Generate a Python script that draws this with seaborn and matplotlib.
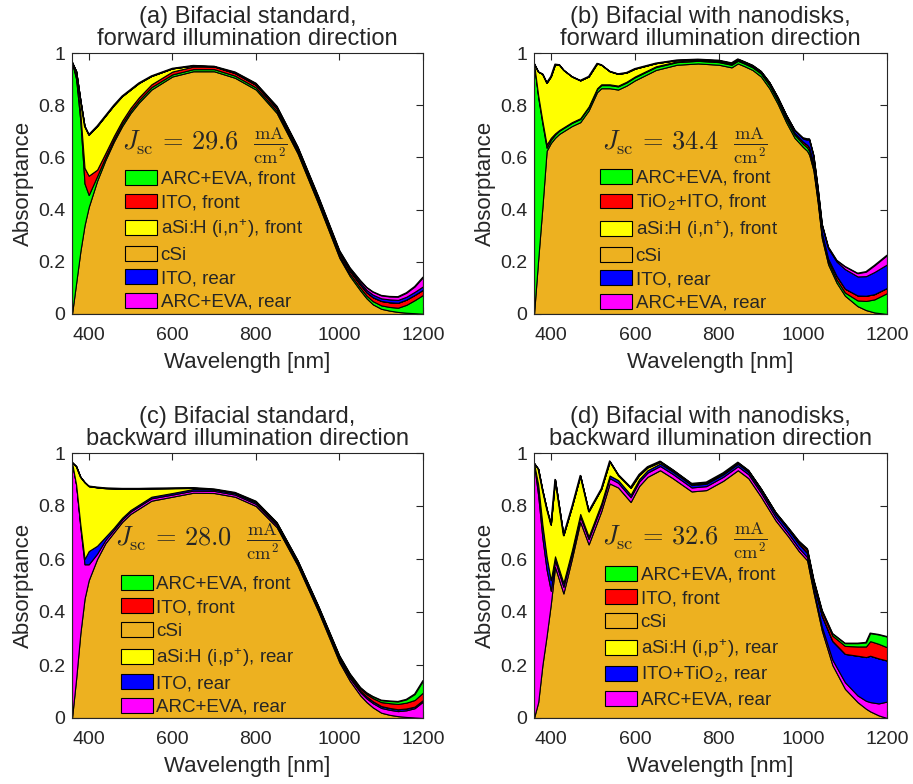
import matplotlib
matplotlib.use('Agg')
import matplotlib.pyplot as plt
from matplotlib.patches import Patch
import seaborn as sns
import numpy as np

# wavelength grids [nm]
wl_std = [360, 370, 380, 390, 400, 420, 440, 460, 480, 500, 520, 550, 600, 650, 700, 750,
          800, 850, 900, 950, 1000, 1025, 1050, 1065, 1080, 1100, 1120, 1140, 1160, 1180, 1200]
wl_nd_f = [360, 370, 380, 390, 400, 410, 420, 430, 450, 470, 490, 510, 520, 540, 560, 580,
           600, 650, 700, 750, 800, 830, 845, 860, 880, 900, 920, 940, 960, 980, 1000, 1010,
           1015, 1025, 1035, 1045, 1060, 1080, 1100, 1130, 1150, 1170, 1200]
wl_nd_b = [360, 370, 380, 390, 400, 410, 430, 450, 470, 490, 520, 540, 560, 590, 610, 630,
           660, 690, 735, 770, 810, 845, 870, 900, 935, 965, 990, 1010, 1025, 1045, 1070,
           1100, 1130, 1150, 1160, 1180, 1200]

# (a) bifacial standard, forward
a_csi = [0, 0.12, 0.24, 0.34, 0.41, 0.51, 0.59, 0.66, 0.72, 0.77, 0.81, 0.86, 0.91, 0.93, 0.93, 0.905,
         0.86, 0.77, 0.615, 0.42, 0.215, 0.145, 0.09, 0.06, 0.037, 0.02, 0.013, 0.008, 0.005, 0.003, 0.001]
a_arc_f = [0.965, 0.78, 0.5, 0.16, 0.046, 0.018, 0.012, 0.01, 0.01, 0.009, 0.009, 0.009, 0.008, 0.008, 0.008, 0.008,
           0.008, 0.008, 0.008, 0.008, 0.008, 0.009, 0.01, 0.01, 0.012, 0.013, 0.014, 0.016, 0.03, 0.05, 0.072]
a_ito_f = [0, 0.01, 0.03, 0.06, 0.074, 0.025, 0.015, 0.012, 0.011, 0.011, 0.011, 0.011, 0.011, 0.01, 0.01, 0.01,
           0.01, 0.01, 0.01, 0.01, 0.01, 0.011, 0.012, 0.013, 0.015, 0.017, 0.018, 0.019, 0.02, 0.02, 0.02]
a_asi_f = [0, 0.02, 0.05, 0.16, 0.157, 0.167, 0.143, 0.118, 0.094, 0.07, 0.055, 0.032, 0.012, 0.004, 0.001, 0,
           0, 0, 0, 0, 0, 0, 0, 0, 0, 0, 0, 0, 0, 0, 0]
a_ito_r = [0, 0, 0, 0, 0, 0, 0, 0, 0, 0, 0, 0, 0, 0, 0, 0.002,
           0.003, 0.004, 0.004, 0.005, 0.005, 0.006, 0.008, 0.009, 0.01, 0.01, 0.011, 0.011, 0.011, 0.012, 0.013]
a_arc_r = [0, 0, 0, 0, 0, 0, 0, 0, 0, 0, 0, 0, 0, 0, 0, 0.002,
           0.003, 0.004, 0.004, 0.005, 0.005, 0.006, 0.008, 0.01, 0.011, 0.011, 0.011, 0.012, 0.015, 0.02, 0.035]

# (b) bifacial with nanodisks, forward
b_csi = [0, 0.21, 0.41, 0.625, 0.655, 0.675, 0.69, 0.70, 0.72, 0.735, 0.78, 0.85, 0.865, 0.865, 0.86, 0.875,
         0.895, 0.935, 0.955, 0.96, 0.955, 0.945, 0.96, 0.95, 0.935, 0.91, 0.865, 0.805, 0.735, 0.675, 0.64,
         0.625, 0.61, 0.55, 0.43, 0.29, 0.19, 0.12, 0.07, 0.03, 0.015, 0.006, 0.0]
b_arc_f = [0.96, 0.62, 0.32, 0.012, 0.012, 0.012, 0.012, 0.012, 0.012, 0.012, 0.012, 0.012, 0.012, 0.012, 0.012,
           0.012, 0.012, 0.011, 0.01, 0.01, 0.01, 0.01, 0.01, 0.01, 0.01, 0.011, 0.012, 0.012, 0.012, 0.012,
           0.012, 0.013, 0.015, 0.014, 0.013, 0.012, 0.012, 0.012, 0.012, 0.022, 0.035, 0.05, 0.08]
b_tio2_ito_f = [0, 0.008, 0.01, 0.012, 0.008, 0.005, 0.003, 0.003, 0.003, 0.003, 0.003, 0.003, 0.003, 0.003,
                0.003, 0.003, 0.003, 0.003, 0.003, 0.003, 0.003, 0.003, 0.003, 0.003, 0.003, 0.003, 0.003,
                0.004, 0.005, 0.006, 0.008, 0.01, 0.013, 0.012, 0.01, 0.01, 0.01, 0.014, 0.015, 0.019, 0.02,
                0.02, 0.02]
b_asi_f = [0, 0.09, 0.18, 0.237, 0.235, 0.265, 0.25, 0.22, 0.175, 0.145, 0.115, 0.095, 0.075, 0.05, 0.045,
           0.035, 0.03, 0.012, 0.005, 0.002, 0.002, 0.002, 0.002, 0.002, 0.002, 0.001, 0.001, 0.001, 0.001,
           0.001, 0, 0, 0, 0, 0, 0, 0, 0, 0, 0, 0, 0, 0]
b_ito_r = [0, 0, 0, 0, 0, 0, 0, 0, 0, 0, 0, 0, 0, 0, 0, 0, 0, 0, 0, 0.001, 0.002, 0.002, 0.002, 0.002,
           0.003, 0.005, 0.007, 0.008, 0.01, 0.011, 0.012, 0.02, 0.03, 0.03, 0.03, 0.03, 0.04, 0.055, 0.075,
           0.073, 0.075, 0.085, 0.09]
b_arc_r = [0, 0, 0, 0, 0, 0, 0, 0, 0, 0, 0, 0, 0, 0, 0, 0, 0, 0, 0, 0, 0, 0, 0, 0, 0, 0, 0, 0, 0, 0,
           0.003, 0.003, 0.003, 0.003, 0.003, 0.003, 0.005, 0.005, 0.01, 0.012, 0.017, 0.025, 0.035]

# (c) bifacial standard, backward
c_csi = [0, 0.15, 0.32, 0.45, 0.52, 0.60, 0.66, 0.70, 0.74, 0.77, 0.79, 0.82, 0.835, 0.85, 0.849, 0.835,
         0.80, 0.72, 0.575, 0.40, 0.21, 0.14, 0.085, 0.06, 0.04, 0.02, 0.012, 0.007, 0.004, 0.002, 0]
c_arc_r = [0.965, 0.73, 0.40, 0.13, 0.06, 0.02, 0.012, 0.01, 0.009, 0.009, 0.009, 0.009, 0.008, 0.008, 0.008,
           0.008, 0.008, 0.008, 0.008, 0.008, 0.009, 0.01, 0.012, 0.014, 0.016, 0.018, 0.019, 0.019, 0.025,
           0.035, 0.062]
c_ito_r = [0, 0, 0.01, 0.02, 0.05, 0.03, 0.012, 0.008, 0.007, 0.006, 0.006, 0.006, 0.006, 0.006, 0.006,
           0.006, 0.006, 0.006, 0.006, 0.006, 0.006, 0.006, 0.006, 0.007, 0.007, 0.007, 0.007, 0.007, 0.007,
           0.006, 0.006]
c_asi_r = [0, 0.07, 0.18, 0.29, 0.245, 0.22, 0.183, 0.148, 0.109, 0.08, 0.06, 0.031, 0.018, 0.004, 0, 0,
           0, 0, 0, 0, 0, 0, 0, 0, 0, 0, 0, 0, 0, 0, 0]
c_ito_f = [0, 0, 0, 0, 0, 0.001, 0.001, 0.001, 0.001, 0.001, 0.001, 0.001, 0.001, 0.001, 0.001, 0.001,
           0.002, 0.002, 0.003, 0.004, 0.006, 0.007, 0.008, 0.009, 0.012, 0.015, 0.018, 0.02, 0.022, 0.025, 0.028]
c_arc_f = [0, 0, 0, 0, 0, 0, 0, 0, 0, 0, 0, 0, 0, 0, 0, 0.001,
           0.002, 0.002, 0.003, 0.003, 0.004, 0.004, 0.004, 0.005, 0.006, 0.007, 0.008, 0.009, 0.012, 0.022, 0.045]

# (d) bifacial with nanodisks, backward
d_csi = [0, 0.06, 0.20, 0.31, 0.43, 0.57, 0.47, 0.60, 0.74, 0.655, 0.78, 0.885, 0.87, 0.815, 0.875, 0.91,
         0.935, 0.905, 0.855, 0.86, 0.895, 0.935, 0.905, 0.835, 0.745, 0.685, 0.63, 0.595, 0.475, 0.33,
         0.2, 0.11, 0.06, 0.035, 0.025, 0.01, 0.0]
d_arc_r = [0.962, 0.78, 0.48, 0.25, 0.05, 0.025, 0.025, 0.02, 0.02, 0.02, 0.02, 0.02, 0.018, 0.018, 0.017,
           0.016, 0.016, 0.016, 0.015, 0.015, 0.015, 0.015, 0.015, 0.015, 0.013, 0.012, 0.012, 0.012, 0.012,
           0.015, 0.02, 0.025, 0.025, 0.03, 0.035, 0.045, 0.062]
d_ito_tio2_r = [0, 0.04, 0.05, 0.05, 0.04, 0.015, 0.015, 0.012, 0.01, 0.01, 0.01, 0.01, 0.01, 0.01, 0.009,
                0.009, 0.009, 0.009, 0.009, 0.009, 0.009, 0.009, 0.009, 0.01, 0.012, 0.014, 0.015, 0.015,
                0.02, 0.04, 0.07, 0.107, 0.15, 0.165, 0.175, 0.17, 0.155]
d_asi_r = [0, 0.06, 0.13, 0.18, 0.21, 0.29, 0.18, 0.165, 0.145, 0.095, 0.055, 0.052, 0.018, 0.025, 0.015,
           0.01, 0.006, 0.004, 0.003, 0.003, 0.003, 0.003, 0.003, 0.003, 0.003, 0.002, 0.002, 0.002, 0.002,
           0.002, 0.001, 0, 0, 0, 0, 0, 0]
d_ito_f = [0, 0, 0, 0, 0, 0, 0, 0, 0, 0, 0, 0.002, 0.002, 0.002, 0.002, 0.002, 0.002, 0.002, 0.002, 0.002,
           0.002, 0.002, 0.002, 0.002, 0.002, 0.003, 0.006, 0.01, 0.01, 0.015, 0.02, 0.03, 0.035, 0.04,
           0.055, 0.055, 0.05]
d_arc_f = [0, 0, 0, 0, 0, 0, 0, 0, 0, 0, 0, 0.001, 0.001, 0.001, 0.001, 0.001, 0.001, 0.001, 0.001, 0.001,
           0.001, 0.001, 0.001, 0.001, 0.001, 0.002, 0.003, 0.005, 0.005, 0.005, 0.008, 0.01, 0.012, 0.015,
           0.03, 0.035, 0.04]

jsc_values = ['29.6', '34.4', '28.0', '32.6']
titles = ['(a) Bifacial standard,\nforward illumination direction',
          '(b) Bifacial with nanodisks,\nforward illumination direction',
          '(c) Bifacial standard,\nbackward illumination direction',
          '(d) Bifacial with nanodisks,\nbackward illumination direction']

GREEN, RED, YELLOW, ORANGE, BLUE, MAGENTA = '#00FF00', '#FF0000', '#FFFF00', '#EDB120', '#0000FF', '#FF00FF'

sns.set_style('ticks')
plt.rcParams['font.family'] = ['Liberation Sans', 'DejaVu Sans']
plt.rcParams['mathtext.fontset'] = 'cm'

AX_COL = '#262626'


def draw_panel(ax, wl, layers, colors, legend_items, title, jsc, leg_xy, jsc_xy):
    ax.stackplot(wl, *layers, colors=colors, edgecolor='black', linewidth=0.8)
    total = np.sum(np.array(layers), axis=0)
    sns.lineplot(x=wl, y=total, ax=ax, color='black', linewidth=1.0)

    ax.set_xlim(360, 1200)
    ax.set_ylim(0, 1)
    ax.set_xticks([400, 600, 800, 1000, 1200])
    ax.set_yticks([0, 0.2, 0.4, 0.6, 0.8, 1])
    ax.set_yticklabels(['0', '0.2', '0.4', '0.6', '0.8', '1'])
    ax.tick_params(direction='in', top=True, right=True, length=5, width=0.8,
                   labelsize=14, colors=AX_COL, labelcolor=AX_COL)
    ax.tick_params(axis='x', pad=9)
    ax.tick_params(axis='y', pad=5)
    for sp in ax.spines.values():
        sp.set_visible(True)
        sp.set_color(AX_COL)
        sp.set_linewidth(0.8)
    ax.set_xlabel('Wavelength [nm]', fontsize=16, color=AX_COL, labelpad=6)
    ax.set_ylabel('Absorptance', fontsize=16, color=AX_COL, labelpad=3)
    ax.set_title(title, fontsize=17, pad=6, linespacing=1.0)

    handles = [Patch(facecolor=c, edgecolor='black', linewidth=0.8, label=l) for l, c in legend_items]
    ax.legend(handles=handles, loc='upper left', bbox_to_anchor=leg_xy, frameon=False,
              fontsize=13.5, borderpad=0, borderaxespad=0, handlelength=1.7, handleheight=0.85,
              handletextpad=0.2, labelspacing=0.3)
    ax.text(jsc_xy[0], jsc_xy[1],
            r'$J_{\mathrm{sc}}\,=\,' + jsc + r'\ \ \frac{\mathrm{mA}}{\mathrm{cm}^2}$',
            transform=ax.transAxes, fontsize=19, ha='left', va='center', zorder=5)


fig = plt.figure(figsize=(9.13, 7.84), dpi=100)
W, H = 913.0, 784.0
ax_a = fig.add_axes([72 / W, 1 - 314 / H, 351 / W, 261 / H])
ax_b = fig.add_axes([534 / W, 1 - 314 / H, 353 / W, 261 / H])
ax_c = fig.add_axes([72 / W, 1 - 718 / H, 351 / W, 265 / H])
ax_d = fig.add_axes([534 / W, 1 - 718 / H, 353 / W, 265 / H])

sup_n = r'aSi:H (i,n$^{\mathregular{+}}$)'
sup_p = r'aSi:H (i,p$^{\mathregular{+}}$)'

draw_panel(ax_a, wl_std, [a_csi, a_arc_f, a_ito_f, a_asi_f, a_ito_r, a_arc_r],
           [ORANGE, GREEN, RED, YELLOW, BLUE, MAGENTA],
           [('ARC+EVA, front', GREEN), ('ITO, front', RED), (sup_n + ', front', YELLOW),
            ('cSi', ORANGE), ('ITO, rear', BLUE), ('ARC+EVA, rear', MAGENTA)],
           titles[0], jsc_values[0], (0.151, 0.552), (0.142, 0.647))

draw_panel(ax_b, wl_nd_f, [b_csi, b_arc_f, b_tio2_ito_f, b_asi_f, b_ito_r, b_arc_r],
           [ORANGE, GREEN, RED, YELLOW, BLUE, MAGENTA],
           [('ARC+EVA, front', GREEN), (r'TiO$_{\mathregular{2}}$+ITO, front', RED), (sup_n + ', front', YELLOW),
            ('cSi', ORANGE), ('ITO, rear', BLUE), ('ARC+EVA, rear', MAGENTA)],
           titles[1], jsc_values[1], (0.187, 0.556), (0.192, 0.647))

draw_panel(ax_c, wl_std, [c_csi, c_arc_r, c_ito_r, c_asi_r, c_ito_f, c_arc_f],
           [ORANGE, MAGENTA, BLUE, YELLOW, RED, GREEN],
           [('ARC+EVA, front', GREEN), ('ITO, front', RED), ('cSi', ORANGE),
            (sup_p + ', rear', YELLOW), ('ITO, rear', BLUE), ('ARC+EVA, rear', MAGENTA)],
           titles[2], jsc_values[2], (0.139, 0.54), (0.1225, 0.665))

draw_panel(ax_d, wl_nd_b, [d_csi, d_arc_r, d_ito_tio2_r, d_asi_r, d_ito_f, d_arc_f],
           [ORANGE, MAGENTA, BLUE, YELLOW, RED, GREEN],
           [('ARC+EVA, front', GREEN), ('ITO, front', RED), ('cSi', ORANGE),
            (sup_p + ', rear', YELLOW), (r'ITO+TiO$_{\mathregular{2}}$, rear', BLUE), ('ARC+EVA, rear', MAGENTA)],
           titles[3], jsc_values[3], (0.201, 0.574), (0.192, 0.672))

fig.savefig('out.png', dpi=100)
